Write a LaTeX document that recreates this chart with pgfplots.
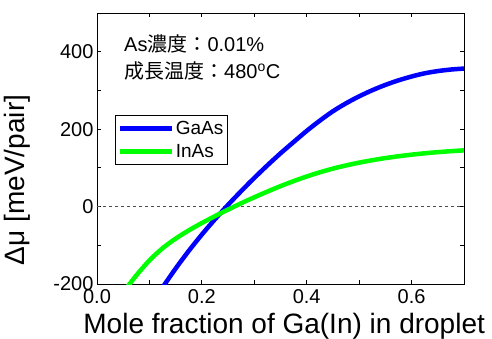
\documentclass[border=0pt]{standalone}
\usepackage{pgfplots}
\pgfplotsset{compat=1.18}
\usepackage{fontspec}
\setmainfont{Liberation Sans}
\newfontfamily\cjk{Noto Sans CJK JP}
\definecolor{cblue}{RGB}{0,0,255}
\definecolor{cgreen}{RGB}{0,255,0}
\begin{document}
\begin{tikzpicture}
\begin{axis}[
  scale only axis, width=367pt, height=271pt,
  xmin=0, xmax=0.7, ymin=-200, ymax=500,
  xtick={0,0.2,0.4,0.6}, xticklabels={0.0,0.2,0.4,0.6},
  minor xtick={0.1,0.3,0.5},
  ytick={-200,0,200,400}, yticklabels={-200,0,200,400},
  minor ytick={-100,100,300},
  tick pos=both, tick align=inside,
  major tick length=4pt, minor tick length=4pt,
  every tick/.style={black, line width=0.8pt},
  axis line style={line width=0.8pt},
  /pgf/number format/assume math mode=true,
  ticklabel style={font=\fontsize{20}{24}\selectfont},
  xticklabel style={yshift=-2pt},
  xlabel={Mole fraction of Ga(In) in droplet},
  xlabel style={at={(axis description cs:0.51,-0.181)}, anchor=base, font=\fontsize{28}{32}\selectfont},
  ylabel={Δμ [meV/pair]},
  ylabel style={at={(axis description cs:-0.218,0.384)}, anchor=center, font=\fontsize{28}{31}\selectfont},
  legend style={at={(axis description cs:0.049,0.624)}, anchor=north west, draw=black, line width=0.6pt,
    font=\fontsize{19}{22}\selectfont, inner xsep=2pt, inner ysep=4pt, row sep=4pt},
  legend cell align=left,
  legend image code/.code={\draw[#1, line width=4.5pt] (0pt,0pt) -- (52pt,0pt);},
]
\coordinate (SW) at (rel axis cs:0,0);
\addplot[gray!60!black, line width=0.8pt, dash pattern=on 3pt off 3pt, forget plot] coordinates {(0,0) (0.7,0)};
\addplot[cblue, line width=4.5pt, smooth] coordinates {
(0.124,-211) (0.13,-199) (0.15,-160) (0.175,-114.5) (0.2,-72.25) (0.225,-32.75) (0.25,4.5)
(0.275,40) (0.3,74) (0.325,106.5) (0.35,137.5) (0.375,166.75) (0.4,195.5) (0.425,222) (0.45,246.25)
(0.475,266.75) (0.5,284.75) (0.525,300.5) (0.55,314.25) (0.575,326) (0.6,336) (0.625,344.25)
(0.65,350) (0.675,354) (0.7,356.5)};
\addlegendentry{GaAs}
\addplot[cgreen, line width=4.5pt, smooth] coordinates {
(0.057,-209) (0.06,-204) (0.075,-177.75) (0.1,-139) (0.125,-107.75) (0.15,-82.75) (0.175,-61.5)
(0.2,-42.5) (0.225,-24.75) (0.25,-7.75) (0.275,8.5) (0.3,24) (0.325,38.75) (0.35,52.75)
(0.375,65.75) (0.4,77.75) (0.425,88.5) (0.45,98) (0.475,106.25) (0.5,113.5) (0.525,119.75)
(0.55,125.25) (0.575,130) (0.6,134.1) (0.625,137.6) (0.65,140.6) (0.675,143.1) (0.7,145.2)};
\addlegendentry{InAs}
\node[anchor=west, inner sep=0pt, font=\fontsize{20}{24}\selectfont] at (axis description cs:0.0736,0.886) {As{\cjk 濃度：}0.01\%};
\node[anchor=west, inner sep=0pt, font=\fontsize{20}{24}\selectfont] at (axis description cs:0.0736,0.786) {{\cjk 成長温度：}480\textsuperscript{o}C};
\end{axis}
\pgfresetboundingbox
\path (SW) ++(-97pt,-54pt) rectangle ++(492pt,338pt);
\end{tikzpicture}
\end{document}
